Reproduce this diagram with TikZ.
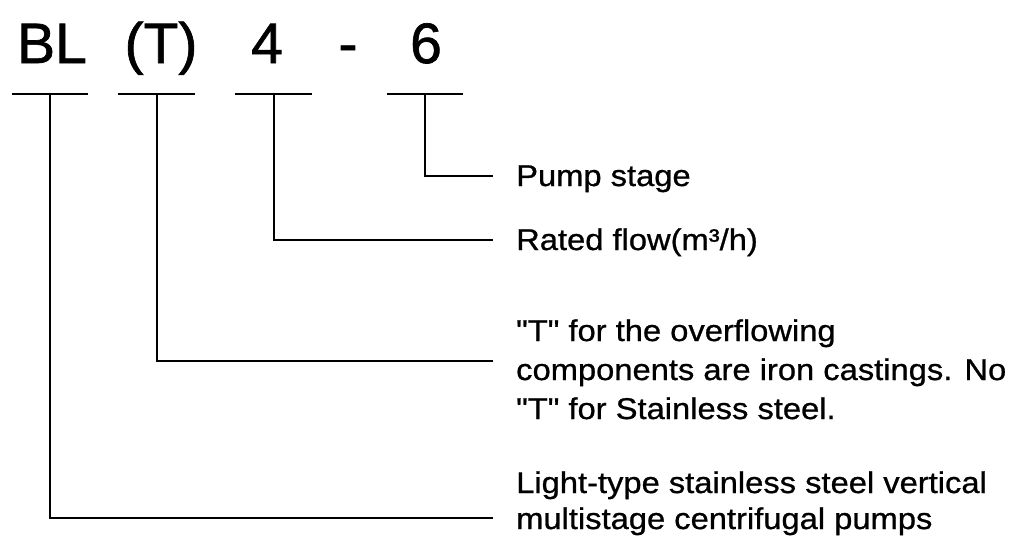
\documentclass[tikz,border=0pt]{standalone}
\usepackage{fontspec}
\setmainfont{Liberation Sans}
\newfontfamily\titlefont[FakeBold=1.2]{Liberation Sans}
\newfontfamily\lblfont[FakeStretch=1.09,FakeBold=0.8]{Liberation Sans}
\begin{document}
\begin{tikzpicture}[x=1pt,y=-1pt,
  title/.style={font=\titlefont\fontsize{57}{57}\selectfont, anchor=base, inner sep=0pt},
  lbl/.style={font=\lblfont\fontsize{30}{36}\selectfont, anchor=base west, inner sep=0pt},
  rule/.style={line width=2.4pt},
  conn/.style={line width=2.4pt, line join=miter}]
\useasboundingbox[fill=white] (0,0) rectangle (1009,542);
% title
\node[title] (tBL) at (52,63) {BL};
\node[title] (tT) at (161,63) {(T)};
\node[title] (t4) at (267,63) {4};
\node[title] (tdash) at (348,63) {-};
\node[title] (t6) at (426,63) {6};
% bars
\coordinate (bBL) at (50,94);
\coordinate (bT) at (157,94);
\coordinate (b4) at (274,94);
\coordinate (b6) at (425,94);
\draw[rule] (12,94) -- (88,94);
\draw[rule] (118,94) -- (195,94);
\draw[rule] (235,94) -- (312,94);
\draw[rule] (387,94) -- (463,94);
% labels
\node[lbl] (l6) at (516,186) {Pump stage};
\node[lbl] (l4) at (516,250) {Rated flow(m³/h)};
\node[lbl] (lTa) at (516,341) {"T" for the overflowing};
\node[lbl] (lTb) at (516,380) {components are iron castings. No};
\node[lbl] (lTc) at (516,419) {"T" for Stainless steel.};
\node[lbl] (lBLa) at (516,493) {Light-type stainless steel vertical};
\node[lbl] (lBLb) at (516,529) {multistage centrifugal pumps};
% connector ends
\coordinate (e6) at (493,176);
\coordinate (e4) at (493,240);
\coordinate (eT) at (493,361);
\coordinate (eBL) at (493,518);
\draw[conn] (b6) |- (e6);
\draw[conn] (b4) |- (e4);
\draw[conn] (bT) |- (eT);
\draw[conn] (bBL) |- (eBL);
\end{tikzpicture}
\end{document}
